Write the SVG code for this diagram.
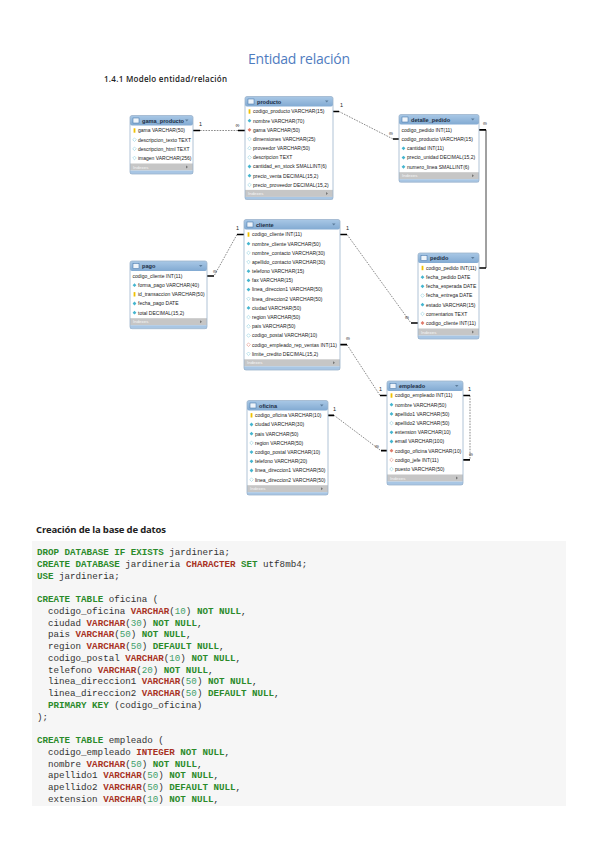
<svg xmlns="http://www.w3.org/2000/svg" xmlns:xlink="http://www.w3.org/1999/xlink" width="599" height="848" viewBox="0 0 599 848">
<style>
.bg{fill:#fff}
.hd{fill:url(#hg)}
.ix{fill:#c6c6c6}
.fs{fill:#a8c6e4}
.ol{fill:none;stroke:#9db4cc;stroke-width:.8}
.ic{fill:#eef4fa;stroke:#3a6ea5;stroke-width:.5}
.tri{fill:#5d7d9c}
.trw{fill:#777}
.ht{font-family:"Liberation Sans",Arial,sans-serif;font-size:5.6px;font-weight:bold;fill:#1c2e44}
.rt{font-family:"Liberation Sans",Arial,sans-serif;font-size:5px;fill:#222}
.it{font-family:"Liberation Sans",Arial,sans-serif;font-size:4.4px;fill:#f6f6f6}
.cd{font-family:"Liberation Sans",Arial,sans-serif;font-size:5.5px;fill:#222}
.dl{fill:none;stroke:#3a3a3a;stroke-width:.6;stroke-dasharray:1.6 1.2}
.sl{fill:none;stroke:#111;stroke-width:.8}
.tk{stroke:#000;stroke-width:1.7}
.code{font-family:"Liberation Mono","Courier New",monospace;font-size:9.2px;fill:#333}
.kw{fill:#2a8a2a;font-weight:bold}
.ty{fill:#a83224;font-weight:bold}
.nm{fill:#3f9f6a}
</style>
<defs>
<linearGradient id="hg" x1="0" y1="0" x2="0" y2="1">
<stop offset="0" stop-color="#a9c8e6"/>
<stop offset="1" stop-color="#82aad2"/>
</linearGradient>
<rect id="k" x="-0.9" y="-2.2" width="1.8" height="4.4" fill="#f0c000"/>
<polygon id="d" points="0,-1.9 1.9,0 0,1.9 -1.9,0" fill="#45b5cf"/>
<polygon id="h" points="0,-1.8 1.8,0 0,1.8 -1.8,0" fill="#fff" stroke="#7cc8da" stroke-width=".5"/>
<polygon id="f" points="0,-1.9 1.9,0 0,1.9 -1.9,0" fill="#e07a6a"/>
<polygon id="fh" points="0,-1.8 1.8,0 0,1.8 -1.8,0" fill="#fff" stroke="#e07a6a" stroke-width=".5"/>
</defs>
<rect width="599" height="848" fill="#fff"/>

<text x="248" y="64" font-family="'Open Sans','Liberation Sans',sans-serif" font-size="14" fill="#4f7cbf" textLength="102">Entidad relación</text>
<text x="104" y="82" font-family="'Open Sans','Liberation Sans',sans-serif" font-size="8" font-weight="600" fill="#222" textLength="123">1.4.1 Modelo entidad/relación</text>

<g id="connectors">
<!-- gama_producto - producto -->
<path class="dl" d="M200,130.5 H238"/>
<path class="tk" d="M193,130.5 H200 M238,130.5 H245"/>
<text class="cd" x="199" y="126">1</text><text class="cd" x="235.5" y="127">∞</text>
<!-- producto - detalle_pedido -->
<path class="dl" d="M339,111.5 L393,139"/>
<path class="tk" d="M333,111.5 H339 M393,139 H399"/>
<text class="cd" x="340" y="107">1</text><text class="cd" x="389" y="135">∞</text>
<!-- detalle_pedido - pedido -->
<path class="sl" d="M486,129.8 V268"/>
<path class="tk" d="M479,129.8 H486 M479,268 H486"/>
<text class="cd" x="483" y="125">∞</text>
<!-- cliente - pago -->
<path class="dl" d="M237,234.5 L214,276"/>
<path class="tk" d="M237,234.5 H244 M207,276 H214"/>
<text class="cd" x="236" y="230">1</text><text class="cd" x="213" y="273">∞</text>
<!-- cliente - pedido -->
<path class="dl" d="M347,234.5 L411,323"/>
<path class="tk" d="M340,234.5 H347 M411,323 H418"/>
<text class="cd" x="346" y="230">1</text><text class="cd" x="405" y="319">∞</text>
<!-- empleado - cliente -->
<path class="dl" d="M347,344.7 L380,395.5"/>
<path class="tk" d="M340,344.7 H347 M380,395.5 H387"/>
<text class="cd" x="346" y="340">∞</text><text class="cd" x="379" y="391">1</text>
<!-- oficina - empleado -->
<path class="dl" d="M334,415.3 L381,450.7"/>
<path class="tk" d="M328,415.3 H334 M381,450.7 H387"/>
<text class="cd" x="333" y="411">1</text><text class="cd" x="375" y="448">∞</text>
<!-- empleado self -->
<path class="dl" d="M470,395.5 V459.9"/>
<path class="tk" d="M463,395.5 H470 M463,459.9 H470"/>
<text class="cd" x="468" y="391">1</text><text class="cd" x="469" y="456">∞</text>
</g>

<g id="gama_producto">
<rect class="bg" x="130" y="115.5" width="63" height="58.5" rx="2"/>
<rect class="hd" x="130" y="115.5" width="63" height="10" rx="2"/>
<rect class="ic" x="133" y="118" width="6" height="5"/>
<text class="ht" x="142" y="122.6">gama_producto</text>
<polygon class="tri" points="185,119.5 188.5,119.5 186.75,121.5"/>
<use href="#k" x="134.5" y="130.5"/><text class="rt" x="138" y="132.3">gama VARCHAR(50)</text>
<use href="#h" x="134.5" y="139.7"/><text class="rt" x="138" y="141.5">descripcion_texto TEXT</text>
<use href="#h" x="134.5" y="148.8"/><text class="rt" x="138" y="150.6">descripcion_html TEXT</text>
<use href="#h" x="134.5" y="158"/><text class="rt" x="138" y="159.8">imagen VARCHAR(256)</text>
<rect class="ix" x="130" y="163.5" width="63" height="7"/>
<text class="it" x="133" y="168.5">Indexes</text>
<polygon class="trw" points="186,165.5 188,167 186,168.5"/>
<rect class="fs" x="130" y="170.5" width="63" height="3.5"/>
<rect class="ol" x="130" y="115.5" width="63" height="58.5" rx="2"/>
</g>

<g id="producto">
<rect class="bg" x="245" y="96.5" width="88" height="103" rx="2"/>
<rect class="hd" x="245" y="96.5" width="88" height="10" rx="2"/>
<rect class="ic" x="248" y="99" width="6" height="5"/>
<text class="ht" x="257" y="103.6">producto</text>
<polygon class="tri" points="325,100.5 328.5,100.5 326.75,102.5"/>
<use href="#k" x="249.5" y="111.5"/><text class="rt" x="253" y="113.3">codigo_producto VARCHAR(15)</text>
<use href="#d" x="249.5" y="120.7"/><text class="rt" x="253" y="122.5">nombre VARCHAR(70)</text>
<use href="#f" x="249.5" y="129.8"/><text class="rt" x="253" y="131.6">gama VARCHAR(50)</text>
<use href="#h" x="249.5" y="139"/><text class="rt" x="253" y="140.8">dimensiones VARCHAR(25)</text>
<use href="#h" x="249.5" y="148.2"/><text class="rt" x="253" y="150">proveedor VARCHAR(50)</text>
<use href="#h" x="249.5" y="157.4"/><text class="rt" x="253" y="159.2">descripcion TEXT</text>
<use href="#d" x="249.5" y="166.5"/><text class="rt" x="253" y="168.3">cantidad_en_stock SMALLINT(6)</text>
<use href="#d" x="249.5" y="175.7"/><text class="rt" x="253" y="177.5">precio_venta DECIMAL(15,2)</text>
<use href="#h" x="249.5" y="184.9"/><text class="rt" x="253" y="186.7">precio_proveedor DECIMAL(15,2)</text>
<rect class="ix" x="245" y="189.9" width="88" height="7"/>
<text class="it" x="248" y="194.9">Indexes</text>
<polygon class="trw" points="326,191.9 328,193.4 326,194.9"/>
<rect class="fs" x="245" y="196.9" width="88" height="2.6"/>
<rect class="ol" x="245" y="96.5" width="88" height="103" rx="2"/>
</g>

<g id="detalle_pedido">
<rect class="bg" x="399" y="114.5" width="80" height="67.7" rx="2"/>
<rect class="hd" x="399" y="114.5" width="80" height="10" rx="2"/>
<rect class="ic" x="402" y="117" width="6" height="5"/>
<text class="ht" x="411" y="121.6">detalle_pedido</text>
<polygon class="tri" points="471,118.5 474.5,118.5 472.75,120.5"/>
<text class="rt" x="401.5" y="131.6">codigo_pedido INT(11)</text>
<text class="rt" x="401.5" y="140.85">codigo_producto VARCHAR(15)</text>
<use href="#d" x="403.5" y="148.3"/><text class="rt" x="407" y="150.1">cantidad INT(11)</text>
<use href="#d" x="403.5" y="157.55"/><text class="rt" x="407" y="159.35">precio_unidad DECIMAL(15,2)</text>
<use href="#d" x="403.5" y="166.8"/><text class="rt" x="407" y="168.6">numero_linea SMALLINT(6)</text>
<rect class="ix" x="399" y="172.2" width="80" height="7"/>
<text class="it" x="402" y="177.2">Indexes</text>
<polygon class="trw" points="472,174.2 474,175.7 472,177.2"/>
<rect class="fs" x="399" y="179.2" width="80" height="3"/>
<rect class="ol" x="399" y="114.5" width="80" height="67.7" rx="2"/>
</g>

<g id="pedido">
<rect class="bg" x="418" y="253" width="61" height="86" rx="2"/>
<rect class="hd" x="418" y="253" width="61" height="10" rx="2"/>
<rect class="ic" x="421" y="255.5" width="6" height="5"/>
<text class="ht" x="430" y="260.1">pedido</text>
<polygon class="tri" points="471,257 474.5,257 472.75,259"/>
<use href="#k" x="422.5" y="268"/><text class="rt" x="426" y="269.8">codigo_pedido INT(11)</text>
<use href="#d" x="422.5" y="277.2"/><text class="rt" x="426" y="279">fecha_pedido DATE</text>
<use href="#d" x="422.5" y="286.3"/><text class="rt" x="426" y="288.1">fecha_esperada DATE</text>
<use href="#h" x="422.5" y="295.5"/><text class="rt" x="426" y="297.3">fecha_entrega DATE</text>
<use href="#d" x="422.5" y="304.7"/><text class="rt" x="426" y="306.5">estado VARCHAR(15)</text>
<use href="#h" x="422.5" y="313.9"/><text class="rt" x="426" y="315.7">comentarios TEXT</text>
<use href="#f" x="422.5" y="323"/><text class="rt" x="426" y="324.8">codigo_cliente INT(11)</text>
<rect class="ix" x="418" y="328.5" width="61" height="7"/>
<text class="it" x="421" y="333.5">Indexes</text>
<polygon class="trw" points="472,330.5 474,332 472,333.5"/>
<rect class="fs" x="418" y="335.5" width="61" height="3.5"/>
<rect class="ol" x="418" y="253" width="61" height="86" rx="2"/>
</g>

<g id="cliente">
<rect class="bg" x="244" y="219.5" width="96" height="150.5" rx="2"/>
<rect class="hd" x="244" y="219.5" width="96" height="10" rx="2"/>
<rect class="ic" x="247" y="222" width="6" height="5"/>
<text class="ht" x="256" y="226.6">cliente</text>
<polygon class="tri" points="332,223.5 335.5,223.5 333.75,225.5"/>
<use href="#k" x="248.5" y="234.5"/><text class="rt" x="252" y="236.3">codigo_cliente INT(11)</text>
<use href="#d" x="248.5" y="243.7"/><text class="rt" x="252" y="245.5">nombre_cliente VARCHAR(50)</text>
<use href="#h" x="248.5" y="252.9"/><text class="rt" x="252" y="254.7">nombre_contacto VARCHAR(30)</text>
<use href="#h" x="248.5" y="262"/><text class="rt" x="252" y="263.8">apellido_contacto VARCHAR(30)</text>
<use href="#d" x="248.5" y="271.2"/><text class="rt" x="252" y="273">telefono VARCHAR(15)</text>
<use href="#d" x="248.5" y="280.4"/><text class="rt" x="252" y="282.2">fax VARCHAR(15)</text>
<use href="#d" x="248.5" y="289.6"/><text class="rt" x="252" y="291.4">linea_direccion1 VARCHAR(50)</text>
<use href="#h" x="248.5" y="298.8"/><text class="rt" x="252" y="300.6">linea_direccion2 VARCHAR(50)</text>
<use href="#d" x="248.5" y="307.9"/><text class="rt" x="252" y="309.7">ciudad VARCHAR(50)</text>
<use href="#h" x="248.5" y="317.1"/><text class="rt" x="252" y="318.9">region VARCHAR(50)</text>
<use href="#h" x="248.5" y="326.3"/><text class="rt" x="252" y="328.1">pais VARCHAR(50)</text>
<use href="#h" x="248.5" y="335.5"/><text class="rt" x="252" y="337.3">codigo_postal VARCHAR(10)</text>
<use href="#fh" x="248.5" y="344.7"/><text class="rt" x="252" y="346.5">codigo_empleado_rep_ventas INT(11)</text>
<use href="#h" x="248.5" y="353.8"/><text class="rt" x="252" y="355.6">limite_credito DECIMAL(15,2)</text>
<rect class="ix" x="244" y="359.3" width="96" height="7"/>
<text class="it" x="247" y="364.3">Indexes</text>
<polygon class="trw" points="333,361.3 335,362.8 333,364.3"/>
<rect class="fs" x="244" y="366.3" width="96" height="3.7"/>
<rect class="ol" x="244" y="219.5" width="96" height="150.5" rx="2"/>
</g>

<g id="pago">
<rect class="bg" x="130" y="261" width="77" height="67.7" rx="2"/>
<rect class="hd" x="130" y="261" width="77" height="10" rx="2"/>
<rect class="ic" x="133" y="263.5" width="6" height="5"/>
<text class="ht" x="142" y="268.1">pago</text>
<polygon class="tri" points="199,265 202.5,265 200.75,267"/>
<text class="rt" x="132.5" y="277.8">codigo_cliente INT(11)</text>
<use href="#d" x="134.5" y="285.2"/><text class="rt" x="138" y="287">forma_pago VARCHAR(40)</text>
<use href="#k" x="134.5" y="294.3"/><text class="rt" x="138" y="296.1">id_transaccion VARCHAR(50)</text>
<use href="#d" x="134.5" y="303.5"/><text class="rt" x="138" y="305.3">fecha_pago DATE</text>
<use href="#d" x="134.5" y="312.7"/><text class="rt" x="138" y="314.5">total DECIMAL(15,2)</text>
<rect class="ix" x="130" y="318.2" width="77" height="7"/>
<text class="it" x="133" y="323.2">Indexes</text>
<polygon class="trw" points="200,320.2 202,321.7 200,323.2"/>
<rect class="fs" x="130" y="325.2" width="77" height="3.5"/>
<rect class="ol" x="130" y="261" width="77" height="67.7" rx="2"/>
</g>

<g id="empleado">
<rect class="bg" x="387" y="381" width="76" height="104" rx="2"/>
<rect class="hd" x="387" y="381" width="76" height="10" rx="2"/>
<rect class="ic" x="390" y="383.5" width="6" height="5"/>
<text class="ht" x="399" y="388.1">empleado</text>
<polygon class="tri" points="455,385 458.5,385 456.75,387"/>
<use href="#k" x="391.5" y="395.5"/><text class="rt" x="395" y="397.3">codigo_empleado INT(11)</text>
<use href="#d" x="391.5" y="404.7"/><text class="rt" x="395" y="406.5">nombre VARCHAR(50)</text>
<use href="#d" x="391.5" y="413.9"/><text class="rt" x="395" y="415.7">apellido1 VARCHAR(50)</text>
<use href="#h" x="391.5" y="423.1"/><text class="rt" x="395" y="424.9">apellido2 VARCHAR(50)</text>
<use href="#d" x="391.5" y="432.3"/><text class="rt" x="395" y="434.1">extension VARCHAR(10)</text>
<use href="#d" x="391.5" y="441.5"/><text class="rt" x="395" y="443.3">email VARCHAR(100)</text>
<use href="#f" x="391.5" y="450.7"/><text class="rt" x="395" y="452.5">codigo_oficina VARCHAR(10)</text>
<use href="#fh" x="391.5" y="459.9"/><text class="rt" x="395" y="461.7">codigo_jefe INT(11)</text>
<use href="#h" x="391.5" y="469.1"/><text class="rt" x="395" y="470.9">puesto VARCHAR(50)</text>
<rect class="ix" x="387" y="474.5" width="76" height="7"/>
<text class="it" x="390" y="479.5">Indexes</text>
<polygon class="trw" points="456,476.5 458,478 456,479.5"/>
<rect class="fs" x="387" y="481.5" width="76" height="3.5"/>
<rect class="ol" x="387" y="381" width="76" height="104" rx="2"/>
</g>

<g id="oficina">
<rect class="bg" x="247" y="400.5" width="81" height="94.5" rx="2"/>
<rect class="hd" x="247" y="400.5" width="81" height="10" rx="2"/>
<rect class="ic" x="250" y="403" width="6" height="5"/>
<text class="ht" x="259" y="407.6">oficina</text>
<polygon class="tri" points="320,404.5 323.5,404.5 321.75,406.5"/>
<use href="#k" x="251.5" y="415.3"/><text class="rt" x="255" y="417.1">codigo_oficina VARCHAR(10)</text>
<use href="#d" x="251.5" y="424.5"/><text class="rt" x="255" y="426.3">ciudad VARCHAR(30)</text>
<use href="#d" x="251.5" y="433.7"/><text class="rt" x="255" y="435.5">pais VARCHAR(50)</text>
<use href="#h" x="251.5" y="442.9"/><text class="rt" x="255" y="444.7">region VARCHAR(50)</text>
<use href="#d" x="251.5" y="452.1"/><text class="rt" x="255" y="453.9">codigo_postal VARCHAR(10)</text>
<use href="#d" x="251.5" y="461.3"/><text class="rt" x="255" y="463.1">telefono VARCHAR(20)</text>
<use href="#d" x="251.5" y="470.5"/><text class="rt" x="255" y="472.3">linea_direccion1 VARCHAR(50)</text>
<use href="#h" x="251.5" y="479.7"/><text class="rt" x="255" y="481.5">linea_direccion2 VARCHAR(50)</text>
<rect class="ix" x="247" y="485.2" width="81" height="7"/>
<text class="it" x="250" y="490.2">Indexes</text>
<polygon class="trw" points="321,487.2 323,488.7 321,490.2"/>
<rect class="fs" x="247" y="492.2" width="81" height="2.8"/>
<rect class="ol" x="247" y="400.5" width="81" height="94.5" rx="2"/>
</g>

<text x="36" y="533" font-family="'Open Sans','Liberation Sans',sans-serif" font-size="9.5" font-weight="bold" fill="#222" textLength="130">Creación de la base de datos</text>
<rect x="32" y="541" width="534" height="265" fill="#f6f6f6"/>
<g class="code">
<text x="37" y="555"><tspan class="kw">DROP DATABASE IF EXISTS</tspan> jardineria;</text>
<text x="37" y="566.75"><tspan class="kw">CREATE DATABASE</tspan> jardineria <tspan class="ty">CHARACTER</tspan> <tspan class="kw">SET</tspan> utf8mb4;</text>
<text x="37" y="578.5"><tspan class="kw">USE</tspan> jardineria;</text>
<text x="37" y="602"><tspan class="kw">CREATE TABLE</tspan> oficina (</text>
<text x="48" y="613.75">codigo_oficina <tspan class="ty">VARCHAR</tspan>(<tspan class="nm">10</tspan>) <tspan class="kw">NOT NULL</tspan>,</text>
<text x="48" y="625.5">ciudad <tspan class="ty">VARCHAR</tspan>(<tspan class="nm">30</tspan>) <tspan class="kw">NOT NULL</tspan>,</text>
<text x="48" y="637.25">pais <tspan class="ty">VARCHAR</tspan>(<tspan class="nm">50</tspan>) <tspan class="kw">NOT NULL</tspan>,</text>
<text x="48" y="649">region <tspan class="ty">VARCHAR</tspan>(<tspan class="nm">50</tspan>) <tspan class="kw">DEFAULT NULL</tspan>,</text>
<text x="48" y="660.75">codigo_postal <tspan class="ty">VARCHAR</tspan>(<tspan class="nm">10</tspan>) <tspan class="kw">NOT NULL</tspan>,</text>
<text x="48" y="672.5">telefono <tspan class="ty">VARCHAR</tspan>(<tspan class="nm">20</tspan>) <tspan class="kw">NOT NULL</tspan>,</text>
<text x="48" y="684.25">linea_direccion1 <tspan class="ty">VARCHAR</tspan>(<tspan class="nm">50</tspan>) <tspan class="kw">NOT NULL</tspan>,</text>
<text x="48" y="696">linea_direccion2 <tspan class="ty">VARCHAR</tspan>(<tspan class="nm">50</tspan>) <tspan class="kw">DEFAULT NULL</tspan>,</text>
<text x="48" y="707.75"><tspan class="kw">PRIMARY KEY</tspan> (codigo_oficina)</text>
<text x="37" y="719.5">);</text>
<text x="37" y="743"><tspan class="kw">CREATE TABLE</tspan> empleado (</text>
<text x="48" y="754.75">codigo_empleado <tspan class="ty">INTEGER</tspan> <tspan class="kw">NOT NULL</tspan>,</text>
<text x="48" y="766.5">nombre <tspan class="ty">VARCHAR</tspan>(<tspan class="nm">50</tspan>) <tspan class="kw">NOT NULL</tspan>,</text>
<text x="48" y="778.25">apellido1 <tspan class="ty">VARCHAR</tspan>(<tspan class="nm">50</tspan>) <tspan class="kw">NOT NULL</tspan>,</text>
<text x="48" y="790">apellido2 <tspan class="ty">VARCHAR</tspan>(<tspan class="nm">50</tspan>) <tspan class="kw">DEFAULT NULL</tspan>,</text>
<text x="48" y="801.75">extension <tspan class="ty">VARCHAR</tspan>(<tspan class="nm">10</tspan>) <tspan class="kw">NOT NULL</tspan>,</text>
</g>
</svg>
